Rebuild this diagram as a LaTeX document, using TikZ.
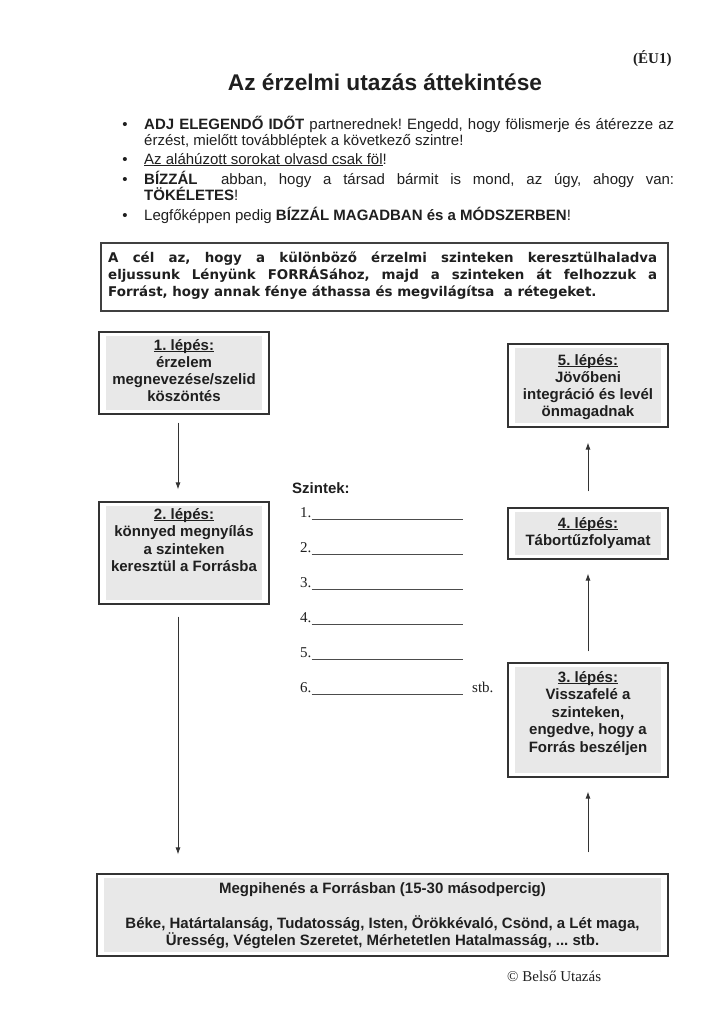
\documentclass[tikz,border=0pt]{standalone}
\usepackage{fontspec}
\setmainfont{Liberation Sans}
\newfontfamily\serifrm{Liberation Serif}
\newfontfamily\goalfont{DejaVu Sans}
\usetikzlibrary{arrows.meta,calc}
\newcommand\ulx[1]{\setbox0\hbox{#1}\rlap{\rule[-2.4pt]{\wd0}{1pt}}\box0}
\frenchspacing
\begin{document}
\begin{tikzpicture}[x=1pt,y=-1pt,
  txt/.style={text=black!88, inner sep=0},
  body/.style={txt, anchor=base west, font=\fontsize{15}{17}\selectfont},
  goaltxt/.style={txt, anchor=base west, font=\goalfont\bfseries\fontsize{13.4}{17}\selectfont},
  stepbox/.style={draw=black!80, line width=1.1pt, inner sep=0,
    path picture={\fill[black!9] ([xshift=7pt,yshift=-4pt]path picture bounding box.north west)
      rectangle ([xshift=-7pt,yshift=4pt]path picture bounding box.south east);}},
  steptext/.style={txt, anchor=base, align=center, font=\fontsize{15}{17}\selectfont\bfseries},
  arr/.style={draw=black!80, line width=0.9pt, -{Latex[length=7pt,width=5pt]}},
  levelline/.style={draw=black!70, line width=0.8pt}]
\useasboundingbox[fill=white] (0,0) rectangle (728,1031);

% header
\node[txt, anchor=base west, font=\serifrm\bfseries\fontsize{15}{17}\selectfont] (code) at (633,63) {(ÉU1)};
\node[txt, anchor=base, font=\bfseries\fontsize{22.7}{26}\selectfont] (title) at (385,90) {Az érzelmi utazás áttekintése};

% bullets
\foreach \y/\n in {129/b1,164/b2,184/b3,220/b4}
  \node[body, anchor=base] (\n) at (125,\y) {•};
\node[body] (l1) at (144,129) {\makebox[530pt][s]{\textbf{ADJ ELEGENDŐ IDŐT} partnerednek! Engedd, hogy fölismerje és átérezze az}};
\node[body] (l2) at (144,145) {érzést, mielőtt továbbléptek a következő szintre!};
\node[body] (l3) at (144,164) {\ulx{Az aláhúzott sorokat olvasd csak föl}!};
\node[body] (l4) at (144,184) {\makebox[530pt][s]{\textbf{BÍZZÁL}\ \ abban, hogy a társad bármit is mond, az úgy, ahogy van:}};
\node[body] (l5) at (144,200) {\textbf{TÖKÉLETES}!};
\node[body] (l6) at (144,220) {Legfőképpen pedig \textbf{BÍZZÁL MAGADBAN és a MÓDSZERBEN}!};

% goal box
\node[draw=black!75, line width=1.2pt, minimum width=567pt, minimum height=68pt, inner sep=0] (goal) at (384.5,277) {};
\node[goaltxt] (g1) at (108,262) {\makebox[549pt][s]{A cél az, hogy a különböző érzelmi szinteken keresztülhaladva}};
\node[goaltxt] (g2) at (108,279) {\makebox[549pt][s]{eljussunk Lényünk FORRÁSához, majd a szinteken át felhozzuk a}};
\node[goaltxt] (g3) at (108,296) {Forrást, hogy annak fénye áthassa és megvilágítsa\ \ a rétegeket.};

% step boxes (text nodes anchored at the baseline of their last line)
\node[stepbox, minimum width=170pt, minimum height=82pt] (s1) at (184,373) {};
\node[steptext] (s1t) at (184,401) {\ulx{1. lépés:}\\érzelem\\megnevezése/szelid\\köszöntés};
\node[stepbox, minimum width=170pt, minimum height=102pt] (s2) at (184,553) {};
\node[steptext, font=\fontsize{15}{17.5}\selectfont\bfseries] (s2t) at (184,571.5) {\ulx{2. lépés:}\\könnyed megnyílás\\a szinteken\\keresztül a Forrásba};
\node[stepbox, minimum width=160pt, minimum height=83pt] (s5) at (588,385.5) {};
\node[steptext] (s5t) at (588,416) {\ulx{5. lépés:}\\Jövőbeni\\integráció és levél\\önmagadnak};
\node[stepbox, minimum width=160pt, minimum height=51pt] (s4) at (588,533.5) {};
\node[steptext] (s4t) at (588,545) {\ulx{4. lépés:}\\Tábortűzfolyamat};
\node[stepbox, minimum width=160pt, minimum height=114pt] (s3) at (588,720) {};
\node[steptext, font=\fontsize{15}{17.5}\selectfont\bfseries] (s3t) at (588,752) {\ulx{3. lépés:}\\Visszafelé a\\szinteken,\\engedve, hogy a\\Forrás beszéljen};

% bottom box
\node[stepbox, minimum width=571pt, minimum height=82pt] (bot) at (382.5,915) {};
\node[steptext] (bott) at (382.5,945) {Megpihenés a Forrásban (15-30 másodpercig)\\[18pt]Béke, Határtalanság, Tudatosság, Isten, Örökkévaló, Csönd, a Lét maga,\\Üresség, Végtelen Szeretet, Mérhetetlen Hatalmasság, ... stb.};

% levels
\node[txt, anchor=base west, font=\fontsize{15}{17}\selectfont\bfseries] (szt) at (292,493) {Szintek:};
\foreach \i in {1,...,6} {
  \pgfmathsetmacro{\yy}{517+(\i-1)*35}
  \node[txt, anchor=base west, font=\serifrm\fontsize{15}{17}\selectfont] (n\i) at (300,\yy) {\i.};
  \draw[levelline] ([yshift=-2pt]n\i.base east) -- ++(151,0);
}
\node[txt, anchor=base west, font=\serifrm\fontsize{15}{17}\selectfont] (stb) at (472,692) {stb.};

% arrows
\draw[arr] ([xshift=-6pt,yshift=-8pt]s1.south) -- ([xshift=-6pt,yshift=12pt]s2.north);
\draw[arr] ([xshift=-6pt,yshift=-12pt]s2.south) -- ($(s2.south |- bot.north)+(-6,-19)$);
\draw[arr] ($(s3.south |- bot.north)+(0,-21)$) -- ([yshift=-14pt]s3.south);
\draw[arr] ([yshift=11pt]s3.north) -- ([yshift=-14pt]s4.south);
\draw[arr] ([yshift=16pt]s4.north) -- ([yshift=-15pt]s5.south);

% footer
\node[txt, anchor=base west, font=\serifrm\fontsize{15}{17}\selectfont] (copy) at (507,981) {© Belső Utazás};
\end{tikzpicture}
\end{document}
